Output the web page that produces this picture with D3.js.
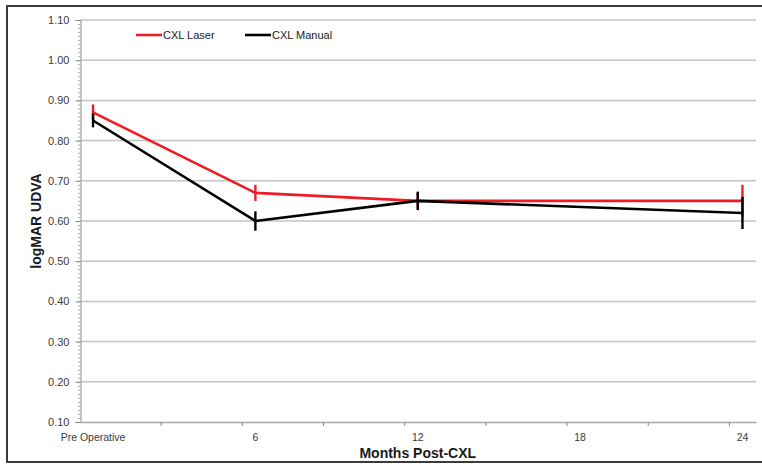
<!DOCTYPE html>
<html>
<head>
<meta charset="utf-8">
<script src="https://cdn.jsdelivr.net/npm/d3@7"></script>
<style>
  html, body { margin: 0; padding: 0; background: #fff; }
  svg { display: block; font-family: "Liberation Sans", Arial, sans-serif; }
</style>
</head>
<body>
<svg id="chart" width="762" height="466"></svg>
<script>
// ---- data ----
const xCategories = ["Pre Operative", "6", "12", "18", "24"];
const xCategoryMonths = [0, 6, 12, 18, 24];
const pointMonths = [0, 6, 12, 24];
const laserValues = [0.87, 0.67, 0.65, 0.65];
const laserErrors = [0.02, 0.02, 0.02, 0.04];
const manualValues = [0.85, 0.60, 0.65, 0.62];
const manualErrors = [0.017, 0.024, 0.023, 0.04];
const yTickValues = [0.10, 0.20, 0.30, 0.40, 0.50, 0.60, 0.70, 0.80, 0.90, 1.00, 1.10];
const seriesNames = ["CXL Laser", "CXL Manual"];
const seriesColors = ["#ee1c24", "#000000"];

(function () {
// ---- layout ----
const svg = d3.select("#chart");
const plotLeft = 80.5, plotRight = 756, plotTop = 20, plotBottom = 422;

const x = d3.scaleLinear().domain([-0.5, 24.5]).range([79.5, plotRight]);
const y = d3.scaleLinear().domain([0.10, 1.10]).range([plotBottom, plotTop]);

// outer frame
svg.append("rect")
  .attr("x", 7).attr("y", 6).attr("width", 770).attr("height", 456)
  .attr("fill", "#fff").attr("stroke", "#3a3a3a").attr("stroke-width", 2);

// gridlines
svg.append("g").selectAll("line")
  .data(yTickValues.filter(d => d > 0.1001))
  .join("line")
  .attr("x1", plotLeft).attr("x2", plotRight)
  .attr("y1", d => y(d)).attr("y2", d => y(d))
  .attr("stroke", "#c4c4c4").attr("stroke-width", 1.5);

// y minor ticks
const minorTicks = d3.range(0, 101).map(i => 0.10 + i * 0.01);
const yMinor = svg.append("g").attr("transform", `translate(${plotLeft},0)`)
  .call(d3.axisLeft(y).tickValues(minorTicks).tickSize(2.5).tickFormat(""));
yMinor.select(".domain").remove();
yMinor.selectAll("line").attr("stroke", "#9a9a9a").attr("stroke-width", 0.8);

// y axis major
const yAxis = svg.append("g").attr("transform", `translate(${plotLeft},0)`)
  .call(d3.axisLeft(y).tickValues(yTickValues).tickFormat(d3.format(".2f")).tickSize(5).tickPadding(6));
yAxis.select(".domain").attr("stroke", "#a0a0a0").attr("stroke-width", 1.2);
yAxis.selectAll(".tick line").attr("stroke", "#8a8a8a").attr("stroke-width", 1);
yAxis.selectAll(".tick text")
  .attr("fill", "#3a3a3a").attr("font-size", 11)
  .attr("font-family", "Liberation Sans, Arial, sans-serif");

// x axis line with ticks
const xTickMarks = d3.range(1, 9).map(k => -0.5 + 3 * k);
const xAxis = svg.append("g").attr("transform", `translate(0,${plotBottom})`)
  .call(d3.axisBottom(x).tickValues(xTickMarks).tickSize(4).tickFormat("").tickSizeOuter(0));
xAxis.select(".domain").attr("stroke", "#a6a6a6").attr("stroke-width", 1.5);
xAxis.selectAll(".tick line").attr("stroke", "#8a8a8a").attr("stroke-width", 1);

// x category labels
svg.append("g").selectAll("text")
  .data(xCategories)
  .join("text")
  .attr("x", (d, i) => x(xCategoryMonths[i]))
  .attr("y", 441)
  .attr("text-anchor", "middle")
  .attr("fill", "#3a3a3a").attr("font-size", 10.5)
  .text(d => d);

// axis titles
svg.append("text")
  .attr("x", (79.5 + plotRight) / 2).attr("y", 458)
  .attr("text-anchor", "middle")
  .attr("font-size", 14).attr("font-weight", "bold").attr("fill", "#1a1a1a")
  .text("Months Post-CXL");

svg.append("text")
  .attr("transform", `translate(41,${(plotTop + plotBottom) / 2}) rotate(-90)`)
  .attr("text-anchor", "middle")
  .attr("font-size", 14).attr("font-weight", "bold").attr("fill", "#1a1a1a")
  .text("logMAR UDVA");

// series
const series = [
  { name: seriesNames[0], color: seriesColors[0], values: laserValues, errors: laserErrors },
  { name: seriesNames[1], color: seriesColors[1], values: manualValues, errors: manualErrors }
];
const line = d3.line().x(d => x(d.m)).y(d => y(d.v));

series.forEach(s => {
  const pts = s.values.map((v, i) => ({ m: pointMonths[i], v, e: s.errors[i] }));
  const g = svg.append("g");
  g.append("path").datum(pts)
    .attr("d", line).attr("fill", "none")
    .attr("stroke", s.color).attr("stroke-width", 2.6)
    .attr("stroke-linejoin", "round");
  g.selectAll("line.err").data(pts).join("line")
    .attr("class", "err")
    .attr("x1", d => x(d.m)).attr("x2", d => x(d.m))
    .attr("y1", d => y(d.v + d.e)).attr("y2", d => y(d.v - d.e))
    .attr("stroke", s.color).attr("stroke-width", 2.4);
});

// legend
const legendX = [136, 245];
const legend = svg.append("g");
series.forEach((s, i) => {
  legend.append("line")
    .attr("x1", legendX[i]).attr("x2", legendX[i] + 26)
    .attr("y1", 35).attr("y2", 35)
    .attr("stroke", s.color).attr("stroke-width", 2.6);
  legend.append("text")
    .attr("x", legendX[i] + 27).attr("y", 39)
    .attr("font-size", 11).attr("fill", "#222")
    .text(s.name);
});
})();
</script>
</body>
</html>
